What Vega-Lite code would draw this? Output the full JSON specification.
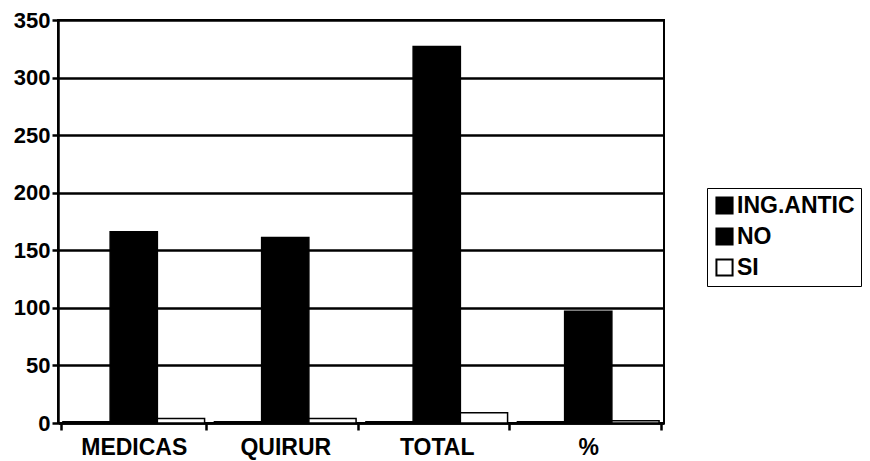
{
  "$schema": "https://vega.github.io/schema/vega-lite/v6.json",
  "width": 606,
  "height": 403,
  "autosize": "none",
  "padding": {"left": 58, "top": 20, "right": 206, "bottom": 38},
  "background": "white",
  "config": {
    "view": {"stroke": "black", "strokeWidth": 2},
    "font": "Liberation Sans",
    "legend": {"strokeColor": "black", "padding": 6, "fillColor": "white"}
  },
  "data": {
    "values": [
      {"cat": "MEDICAS", "serie": "ING.ANTIC", "v": 1},
      {"cat": "MEDICAS", "serie": "NO", "v": 166},
      {"cat": "MEDICAS", "serie": "SI", "v": 4},
      {"cat": "QUIRUR", "serie": "ING.ANTIC", "v": 1},
      {"cat": "QUIRUR", "serie": "NO", "v": 161},
      {"cat": "QUIRUR", "serie": "SI", "v": 4},
      {"cat": "TOTAL", "serie": "ING.ANTIC", "v": 1},
      {"cat": "TOTAL", "serie": "NO", "v": 327},
      {"cat": "TOTAL", "serie": "SI", "v": 9},
      {"cat": "%", "serie": "ING.ANTIC", "v": 1},
      {"cat": "%", "serie": "NO", "v": 97},
      {"cat": "%", "serie": "SI", "v": 2}
    ]
  },
  "mark": {"type": "bar", "stroke": "black", "strokeWidth": 1.5},
  "encoding": {
    "x": {
      "field": "cat",
      "type": "nominal",
      "sort": ["MEDICAS", "QUIRUR", "TOTAL", "%"],
      "scale": {"paddingInner": 0.04, "paddingOuter": 0.02},
      "axis": {
        "title": null,
        "labelAngle": 0,
        "labelFont": "Liberation Sans",
        "labelFontWeight": "bold",
        "labelFontSize": 23,
        "labelColor": "black",
        "labelPadding": 6,
        "tickBand": "extent",
        "tickColor": "black",
        "tickWidth": 2.5,
        "tickSize": 7,
        "domainColor": "black",
        "domainWidth": 2.5
      }
    },
    "xOffset": {
      "field": "serie",
      "type": "nominal",
      "sort": ["ING.ANTIC", "NO", "SI"],
      "scale": {"paddingInner": 0, "paddingOuter": 0.04}
    },
    "y": {
      "field": "v",
      "type": "quantitative",
      "scale": {"domain": [0, 350], "nice": false},
      "axis": {
        "title": null,
        "values": [0, 50, 100, 150, 200, 250, 300, 350],
        "labelFont": "Liberation Sans",
        "labelFontWeight": "bold",
        "labelFontSize": 22,
        "labelColor": "black",
        "labelPadding": 2,
        "grid": true,
        "gridColor": "black",
        "gridWidth": 2.5,
        "gridOpacity": 1,
        "tickColor": "black",
        "tickWidth": 2.5,
        "tickSize": 6,
        "domainColor": "black",
        "domainWidth": 2.5
      }
    },
    "fill": {
      "field": "serie",
      "type": "nominal",
      "sort": ["ING.ANTIC", "NO", "SI"],
      "scale": {"domain": ["ING.ANTIC", "NO", "SI"], "range": ["black", "black", "white"]},
      "legend": {
        "title": null,
        "orient": "none",
        "legendX": 649,
        "legendY": 168,
        "symbolType": "square",
        "symbolSize": 260,
        "symbolStrokeColor": "black",
        "symbolStrokeWidth": 2,
        "labelFont": "Liberation Sans",
        "labelFontWeight": "bold",
        "labelFontSize": 23,
        "labelColor": "black",
        "rowPadding": 6,
        "labelOffset": 1
      }
    }
  }
}
